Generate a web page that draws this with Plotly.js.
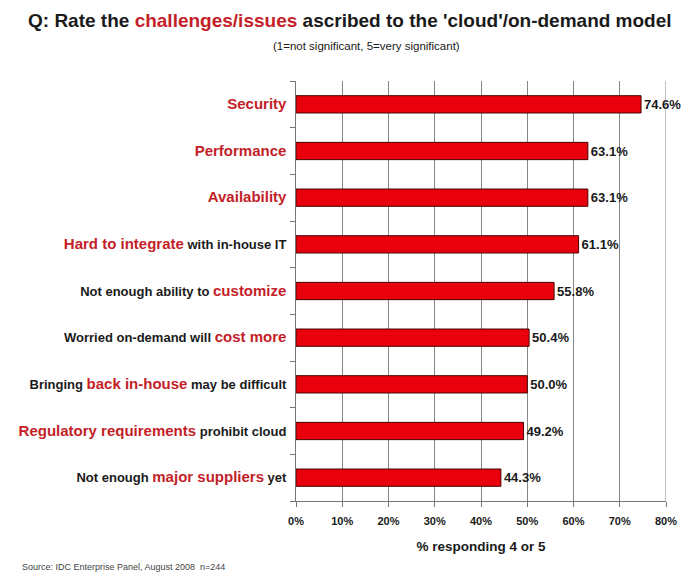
<!DOCTYPE html>
<html><head><meta charset="utf-8">
<script src="https://cdn.plot.ly/plotly-3.0.1.min.js"></script>
<style>html,body{margin:0;padding:0;background:#fff;}#chart{width:681px;height:578px;}</style>
</head><body><div id="chart"></div>
<script>
const categories = [
  "Security","Performance","Availability","Hard to integrate with in-house IT",
  "Not enough ability to customize","Worried on-demand will cost more",
  "Bringing back in-house may be difficult","Regulatory requirements prohibit cloud",
  "Not enough major suppliers yet"
];
// label pieces: r = highlighted red, k = black
const labelParts = [
  [["Security","r"]],
  [["Performance","r"]],
  [["Availability","r"]],
  [["Hard to integrate","r"],[" with in-house IT","k"]],
  [["Not enough ability to ","k"],["customize","r"]],
  [["Worried on-demand will ","k"],["cost more","r"]],
  [["Bringing ","k"],["back in-house","r"],[" may be difficult","k"]],
  [["Regulatory requirements","r"],[" prohibit cloud","k"]],
  [["Not enough ","k"],["major suppliers","r"],[" yet","k"]]
];
const values = [74.6, 63.1, 63.1, 61.1, 55.8, 50.4, 50.0, 49.2, 44.3];
const xTickVals = [0,10,20,30,40,50,60,70,80];
const xTickText = ["0%","10%","20%","30%","40%","50%","60%","70%","80%"];

const RED = "#c41e28";
const tickText = labelParts.map(parts => parts.map(([t,c]) =>
  c === "r" ? `<span style="color:${RED};font-size:15px">${t}</span>`
            : `<span style="color:#1a1a1a;font-size:13px">${t}</span>`).join(""));

const trace = {
  type: "bar", orientation: "h",
  y: categories, x: values,
  marker: {color: "#e8000c", line: {color: "#4a0000", width: 1}},
  width: 0.37,
  text: values.map(v => v.toFixed(1) + "%"),
  textposition: "outside",
  textfont: {family: "Liberation Sans, Arial, sans-serif", size: 13, color: "#1a1a1a", weight: "bold"},
  cliponaxis: false,
  hoverinfo: "none"
};

const layout = {
  width: 681, height: 578,
  margin: {l: 296, r: 15, t: 81, b: 77},
  paper_bgcolor: "#fff", plot_bgcolor: "#fff",
  font: {family: "Liberation Sans, Arial, sans-serif", weight: "bold"},
  showlegend: false,
  xaxis: {
    range: [0, 80], tickvals: xTickVals, ticktext: xTickText,
    showgrid: true, gridcolor: "#858585", gridwidth: 1,
    showline: true, linecolor: "#777", linewidth: 1, mirror: false,
    ticks: "outside", ticklen: 5, tickcolor: "#777",
    ticklabelstandoff: 5,
    tickfont: {size: 11, color: "#1a1a1a", weight: "bold"},
    zeroline: false, fixedrange: true,
    title: {text: "% responding 4 or 5", font: {size: 13.5, color: "#1a1a1a", weight: "bold"}, standoff: 15}
  },
  yaxis: {
    type: "category", categoryorder: "array", categoryarray: categories,
    autorange: "reversed",
    tickvals: categories, ticktext: tickText,
    tickson: "boundaries", ticks: "outside", ticklen: 5, tickcolor: "#777",
    ticklabelstandoff: 6,
    showline: true, linecolor: "#777", linewidth: 1,
    showgrid: false, zeroline: false, fixedrange: true,
    tickfont: {size: 13, color: "#1a1a1a", weight: "bold"}
  },
  shapes: [{type: "line", xref: "x", yref: "paper", x0: 80, x1: 80, y0: 0, y1: 1, line: {color: "#858585", width: 1}}],
  annotations: [
    {xref: "paper", yref: "paper", x: 0.145, y: 1, xanchor: "center", yanchor: "middle", yshift: 61,
     text: `Q: Rate the <span style="color:${RED}">challenges/issues</span> ascribed to the 'cloud'/on-demand model`,
     showarrow: false, font: {size: 19, color: "#1a1a1a", weight: "bold"}},
    {xref: "paper", yref: "paper", x: 0.19, y: 1, xanchor: "center", yanchor: "middle", yshift: 35,
     text: "(1=not significant, 5=very significant)", showarrow: false,
     font: {size: 11.5, color: "#1a1a1a", weight: "normal"}},
    {xref: "paper", yref: "paper", x: -0.745, y: 0, xanchor: "left", yanchor: "middle", yshift: -66,
     text: "Source: IDC Enterprise Panel, August 2008  n=244", showarrow: false,
     font: {size: 9, color: "#444", weight: "normal"}}
  ]
};

Plotly.newPlot("chart", [trace], layout, {displayModeBar: false, staticPlot: true});
</script></body></html>
